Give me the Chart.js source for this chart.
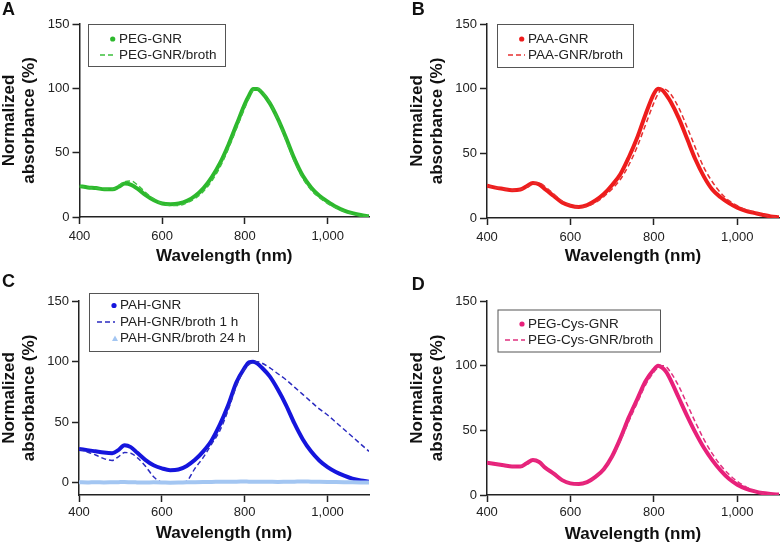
<!DOCTYPE html>
<html>
<head>
<meta charset="utf-8">
<script src="https://cdn.jsdelivr.net/npm/chart.js@4.4.1/dist/chart.umd.min.js"></script>
<style>
  body { margin: 0; background: #fff; }
  #wrap { position: relative; width: 781px; height: 545px; }
  canvas { position: absolute; }
</style>
</head>
<body>
<div id="wrap">
  <canvas id="chartA" width="390" height="272" style="left:0;top:0"></canvas>
  <canvas id="chartB" width="391" height="272" style="left:390px;top:0"></canvas>
  <canvas id="chartC" width="390" height="273" style="left:0;top:272px"></canvas>
  <canvas id="chartD" width="391" height="273" style="left:390px;top:272px"></canvas>
</div>
<script>
  // wavelengths (nm) shared by every curve
  const wavelengths = [400, 420, 440, 460, 480, 495, 510, 525, 540, 560, 580, 600, 620, 640, 660, 680, 700, 720, 740, 760, 780, 800, 810, 820, 830, 840, 860, 880, 900, 920, 940, 960, 980, 1000, 1020, 1040, 1060, 1080, 1100];
  const xTicks = [400, 600, 800, 1000];
  const yTicks = [0, 50, 100, 150];
  const xTitle = 'Wavelength (nm)';
  const yTitle = ['Normalized', 'absorbance (%)'];

  // A
  const pegGnr = [24, 23, 22.5, 21.5, 21.5, 23.5, 26, 25, 22, 17, 13, 10.5, 10, 10.5, 12.5, 16.5, 22.5, 31, 42, 56, 72, 88, 94.5, 99.5, 99.5, 97, 88.5, 76, 61, 45, 32, 23, 16.5, 12, 8, 5, 3, 1.5, 0.5];
  const pegBroth = [24, 23, 22.5, 21.5, 21.5, 24.5, 27.5, 28, 25, 19, 14, 10.5, 9, 9, 11, 14.5, 20, 28, 39, 53, 69, 85, 92.5, 98.5, 100, 98, 89, 75.5, 59, 43, 30, 21, 15, 10.5, 7, 4.5, 2.5, 1.2, 0.5];
  // B
  const paaGnr = [25, 23.5, 22.5, 21.5, 22, 24.5, 27, 26, 22, 17, 12, 9.5, 8.5, 10, 13.5, 18.5, 25.5, 34, 47, 62, 80, 96, 100, 99, 95, 90, 77, 61, 45, 32, 22, 16, 11.5, 8, 5.5, 4, 2.5, 1.2, 0.5];
  const paaBroth = [25, 23.5, 22.5, 21.5, 22, 24, 26.5, 27, 24, 18.5, 13, 10, 8.5, 9, 12, 16.5, 22.5, 30, 41, 55, 72, 89, 96, 100, 99, 96, 85, 70, 54, 39, 28, 19.5, 13.5, 9.5, 6.5, 4.5, 2.5, 1.2, 0.5];
  // C
  const pahGnr = [28, 27, 26, 25, 24.5, 27, 31, 29.5, 25, 19, 14.5, 12, 10.5, 11, 14, 19, 26, 35, 48, 64, 83, 95, 99.5, 100, 98.5, 95.5, 88, 77, 64, 49, 36, 26, 18.5, 13, 9, 6, 3.5, 2, 1];
  const pahBroth1h = [28, 25.5, 23, 20, 18.5, 21.5, 25, 24.5, 21, 14, 5, 0.5, 0, 0, 1.5, 12, 21, 32, 43, 60, 80, 94, 97.5, 99.5, 100, 99, 95, 90, 85, 79, 73, 67, 61, 56, 50, 44, 38, 32, 26];
  const pahBroth24h = [0.5, 0.3, 0.6, 0.4, 0.5, 0.6, 0.7, 0.5, 0.4, 0.3, 0.5, 0.4, 0.2, 0.3, 0.5, 0.6, 0.7, 0.8, 0.9, 1, 1, 1.1, 1, 1, 0.9, 1, 0.9, 0.8, 0.9, 1, 1.1, 1, 0.9, 0.8, 0.7, 0.6, 0.5, 0.4, 0.3];
  // D
  const pegCysGnr = [25, 24, 23, 22, 22, 24.5, 27, 25.5, 21, 16.5, 11.5, 9, 8.5, 10, 14, 20, 30, 44, 60, 74, 88, 97, 100, 98.5, 95, 89, 75, 61, 48, 36.5, 27, 19, 12.5, 8, 5, 3, 1.5, 0.8, 0.3];
  const pegCysBroth = [25, 24, 23, 22, 22, 24.5, 27, 25.5, 21, 16.5, 11.5, 9, 8.5, 10, 14, 20, 29, 42, 57, 71, 85, 95, 98.5, 100, 99, 95, 84, 70, 56, 43, 32, 23, 16, 10.5, 6.5, 3.5, 1.8, 0.8, 0.3];

  Chart.defaults.font.family = '"Liberation Sans", Arial, sans-serif';
  Chart.defaults.color = '#222';

  const pts = arr => wavelengths.map((x, i) => ({ x: x, y: arr[i] }));

  function solid(label, arr, color, order) {
    return { label, data: pts(arr), borderColor: color, backgroundColor: color, borderWidth: 4,
      pointRadius: 0, fill: false, cubicInterpolationMode: 'monotone', order };
  }
  function dashed(label, arr, color, order) {
    return { label, data: pts(arr), borderColor: color, backgroundColor: color, borderWidth: 1.5,
      borderDash: [5, 3], pointRadius: 0, fill: false, cubicInterpolationMode: 'monotone', order };
  }

  // panel letter + boxed legend
  const panelDecor = {
    id: 'panelDecor',
    afterDraw(chart, args, o) {
      const ctx = chart.ctx;
      ctx.save();
      ctx.fillStyle = '#111';
      ctx.font = 'bold 18px "Liberation Sans", Arial, sans-serif';
      ctx.textBaseline = 'alphabetic';
      ctx.fillText(o.letter, o.lx, o.ly);

      const [bx, by, bw, bh] = o.box;
      ctx.fillStyle = '#fff';
      ctx.fillRect(bx, by, bw, bh);
      ctx.strokeStyle = '#555';
      ctx.lineWidth = 1;
      ctx.strokeRect(bx + 0.5, by + 0.5, bw, bh);

      ctx.font = '13.5px "Liberation Sans", Arial, sans-serif';
      ctx.textBaseline = 'middle';
      chart.data.datasets.forEach((ds, i) => {
        const y = o.rows[i];
        const mark = o.marks[i];
        ctx.fillStyle = ds.borderColor;
        ctx.strokeStyle = ds.borderColor;
        if (mark === 'dot') {
          ctx.beginPath();
          ctx.arc(o.dotX, y, 2.6, 0, Math.PI * 2);
          ctx.fill();
        } else if (mark === 'dash') {
          ctx.lineWidth = 1.5;
          ctx.setLineDash([5, 3]);
          ctx.beginPath();
          ctx.moveTo(o.dashX[0], y);
          ctx.lineTo(o.dashX[1], y);
          ctx.stroke();
          ctx.setLineDash([]);
        } else if (mark === 'tri') {
          ctx.beginPath();
          ctx.moveTo(o.dotX + 1, y - 3);
          ctx.lineTo(o.dotX + 4, y + 2.5);
          ctx.lineTo(o.dotX - 2, y + 2.5);
          ctx.closePath();
          ctx.fill();
        }
        ctx.fillStyle = '#222';
        ctx.fillText(ds.label, o.textX, y);
      });
      ctx.restore();
    }
  };

  function scalesFor(p) {
    const axisGrid = { drawOnChartArea: false, tickLength: 7, tickWidth: 1.5, color: '#222' };
    const axisBorder = { color: '#222', width: 1.5 };
    return {
      x: {
        type: 'linear', min: 400, max: 1100,
        afterBuildTicks: s => { s.ticks = xTicks.map(v => ({ value: v })); },
        afterFit: s => { s.height = p.xh; },
        ticks: { padding: p.xpad, color: '#222', font: { size: 13 } },
        grid: axisGrid,
        border: axisBorder,
        title: { display: true, text: xTitle, color: '#111', font: { size: 17, weight: 'bold' }, padding: { top: 0, bottom: p.tpad } }
      },
      y: {
        min: p.ymin, max: 150,
        afterBuildTicks: s => { s.ticks = yTicks.map(v => ({ value: v })); },
        afterFit: s => { s.width = p.yw; },
        ticks: { padding: 3, color: '#222', font: { size: 13 } },
        grid: axisGrid,
        border: axisBorder,
        title: { display: true, text: yTitle, color: '#111', font: { size: 17, weight: 'bold', lineHeight: 1.15 }, padding: { top: 0, bottom: 0 } }
      }
    };
  }

  function makePanel(id, datasets, p, decor) {
    new Chart(document.getElementById(id), {
      type: 'line',
      data: { datasets },
      options: {
        responsive: false,
        animation: false,
        locale: 'en-US',
        layout: { padding: p.pad },
        scales: scalesFor(p),
        plugins: { legend: { display: false }, tooltip: { enabled: false }, panelDecor: decor }
      },
      plugins: [panelDecor]
    });
  }

  makePanel('chartA', [
    solid('PEG-GNR', pegGnr, '#2db82d', 1),
    dashed('PEG-GNR/broth', pegBroth, '#3cc03c', 0)
  ], { pad: { left: 0, top: 24, right: 21, bottom: 0 }, yw: 79.5, xh: 55, xpad: 5, tpad: 5, ymin: 0 },
  { letter: 'A', lx: 2, ly: 15, box: [88, 24, 137, 42], rows: [39, 55], marks: ['dot', 'dash'], dotX: 112.7, dashX: [100, 115], textX: 119 });

  makePanel('chartB', [
    solid('PAA-GNR', paaGnr, '#ee1c1c', 1),
    dashed('PAA-GNR/broth', paaBroth, '#e63030', 0)
  ], { pad: { left: 18, top: 24, right: 2, bottom: 0 }, yw: 79, xh: 54, xpad: 5, tpad: 5, ymin: 0 },
  { letter: 'B', lx: 21.7, ly: 14.5, box: [107, 24, 136, 43], rows: [39, 55], marks: ['dot', 'dash'], dotX: 131.7, dashX: [118, 135], textX: 138 });

  makePanel('chartC', [
    solid('PAH-GNR', pahGnr, '#1515dd', 2),
    dashed('PAH-GNR/broth 1 h', pahBroth1h, '#2b2bc0', 1),
    { label: 'PAH-GNR/broth 24 h', data: pts(pahBroth24h), borderColor: '#a3c6f2', backgroundColor: '#a3c6f2',
      borderWidth: 4, pointRadius: 0, fill: false, cubicInterpolationMode: 'monotone', order: 0 }
  ], { pad: { left: 0, top: 29, right: 21, bottom: 0 }, yw: 79, xh: 50, xpad: 3, tpad: 1, ymin: -10 },
  { letter: 'C', lx: 2, ly: 15, box: [89, 21, 169, 58], rows: [33.5, 50, 66.5], marks: ['dot', 'dash', 'tri'], dotX: 114, dashX: [97, 115], textX: 120 });

  makePanel('chartD', [
    solid('PEG-Cys-GNR', pegCysGnr, '#e8207a', 1),
    dashed('PEG-Cys-GNR/broth', pegCysBroth, '#e0307f', 0)
  ], { pad: { left: 18, top: 29, right: 2, bottom: 0 }, yw: 79, xh: 50, xpad: 3, tpad: 0, ymin: 0 },
  { letter: 'D', lx: 21.7, ly: 18.3, box: [107.5, 37.5, 162.5, 42], rows: [52, 68], marks: ['dot', 'dash'], dotX: 132, dashX: [115, 135], textX: 138 });
</script>
</body>
</html>
